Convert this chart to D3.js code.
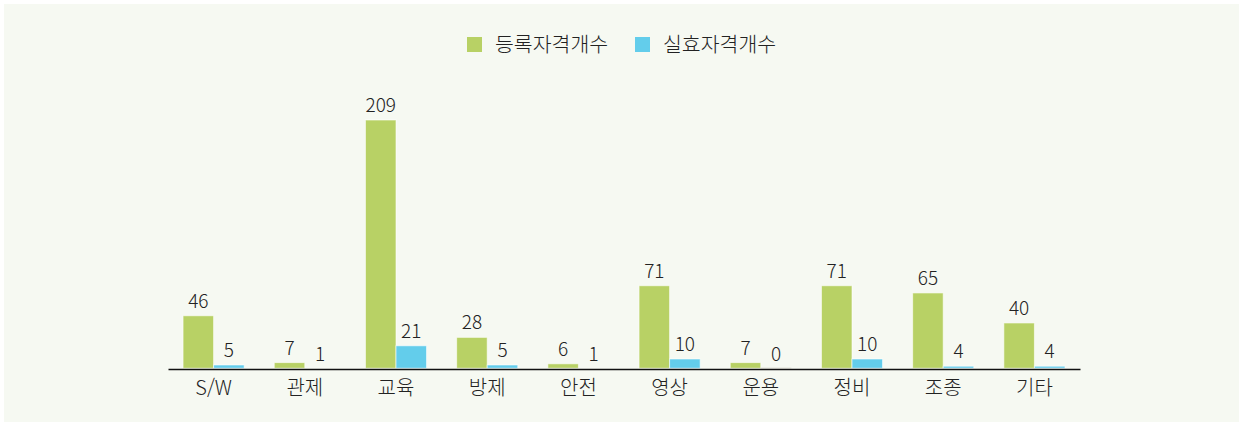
<!DOCTYPE html>
<html lang="ko">
<head>
<meta charset="utf-8">
<script src="https://cdn.jsdelivr.net/npm/d3@7/dist/d3.min.js"></script>
<style>
  html, body { margin: 0; padding: 0; background: #ffffff; }
  svg { display: block; }
  text { font-family: "Noto Sans CJK KR", "Noto Sans", sans-serif; font-weight: 300; fill: #222; }
</style>
</head>
<body>
<svg id="chart" width="1243" height="426"></svg>
<script>
// 분야별 자격 현황
const categories = ["S/W", "관제", "교육", "방제", "안전", "영상", "운용", "정비", "조종", "기타"];
const seriesNames = ["등록자격개수", "실효자격개수"];
const registered = [46, 7, 209, 28, 6, 71, 7, 71, 65, 40];
const effective = [5, 1, 21, 5, 1, 10, 0, 10, 4, 4];
const colors = ["#b8d165", "#63cdeb"];

const W = 1243, H = 426;
const svg = d3.select("#chart");

// panel background
svg.append("rect")
  .attr("x", 4).attr("y", 4)
  .attr("width", W - 8).attr("height", H - 8)
  .attr("fill", "#f6f9f2");

const baseY = 369;
const x0 = d3.scaleBand()
  .domain(categories)
  .range([168, 1080])
  .paddingInner(0.33)
  .paddingOuter(0.165);

const x1 = d3.scaleBand()
  .domain(seriesNames)
  .range([0, x0.bandwidth()]);

// zero sits just under the axis line, so the smallest bars barely show
const y = d3.scaleLinear()
  .domain([0, 209])
  .range([baseY + 2, 120]);
const barBottom = baseY - 0.75;

const rows = categories.map((c, i) => ({
  cat: c,
  vals: [
    { key: seriesNames[0], v: registered[i] },
    { key: seriesNames[1], v: effective[i] }
  ]
}));

const groups = svg.append("g").selectAll("g")
  .data(rows).join("g")
  .attr("transform", d => `translate(${x0(d.cat)},0)`);

groups.selectAll("rect")
  .data(d => d.vals.filter(v => barBottom - y(v.v) > 0)).join("rect")
  .attr("x", d => x1(d.key))
  .attr("y", d => y(d.v))
  .attr("width", x1.bandwidth())
  .attr("height", d => barBottom - y(d.v))
  .attr("fill", d => colors[seriesNames.indexOf(d.key)])
  .attr("stroke", "rgba(255,255,255,0.6)")
  .attr("stroke-width", 1);

// zero-value marker
groups.selectAll("line.zero")
  .data(d => d.vals.filter(v => v.v === 0)).join("line")
  .attr("class", "zero")
  .attr("x1", d => x1(d.key)).attr("x2", d => x1(d.key) + x1.bandwidth())
  .attr("y1", baseY - 1).attr("y2", baseY - 1)
  .attr("stroke", "#e2e2d8").attr("stroke-width", 1);

groups.selectAll("text.val")
  .data(d => d.vals).join("text")
  .attr("class", "val")
  .attr("x", d => x1(d.key) + x1.bandwidth() / 2)
  .attr("y", d => Math.min(y(d.v), baseY) - 8)
  .attr("text-anchor", "middle")
  .attr("font-size", 19)
  .text(d => d.v);

// category axis
const xAxis = d3.axisBottom(x0).tickSize(0).tickPadding(12);
const ax = svg.append("g")
  .attr("transform", `translate(0,${baseY})`)
  .call(xAxis);
ax.select(".domain").attr("stroke", "#111").attr("stroke-width", 1.5);
ax.selectAll("text")
  .attr("font-size", 20)
  .attr("fill", "#222")
  .style("font-family", '"Noto Sans CJK KR", "Noto Sans", sans-serif')
  .style("font-weight", 300);

// legend
const legendItems = [
  { name: seriesNames[0], color: colors[0], x: 467 },
  { name: seriesNames[1], color: colors[1], x: 635 }
];
const lg = svg.append("g").selectAll("g")
  .data(legendItems).join("g")
  .attr("transform", d => `translate(${d.x},37)`);
lg.append("rect")
  .attr("width", 15).attr("height", 15)
  .attr("fill", d => d.color);
lg.append("text")
  .attr("x", 28).attr("y", 15)
  .attr("font-size", 20.5)
  .text(d => d.name);
</script>
</body>
</html>
